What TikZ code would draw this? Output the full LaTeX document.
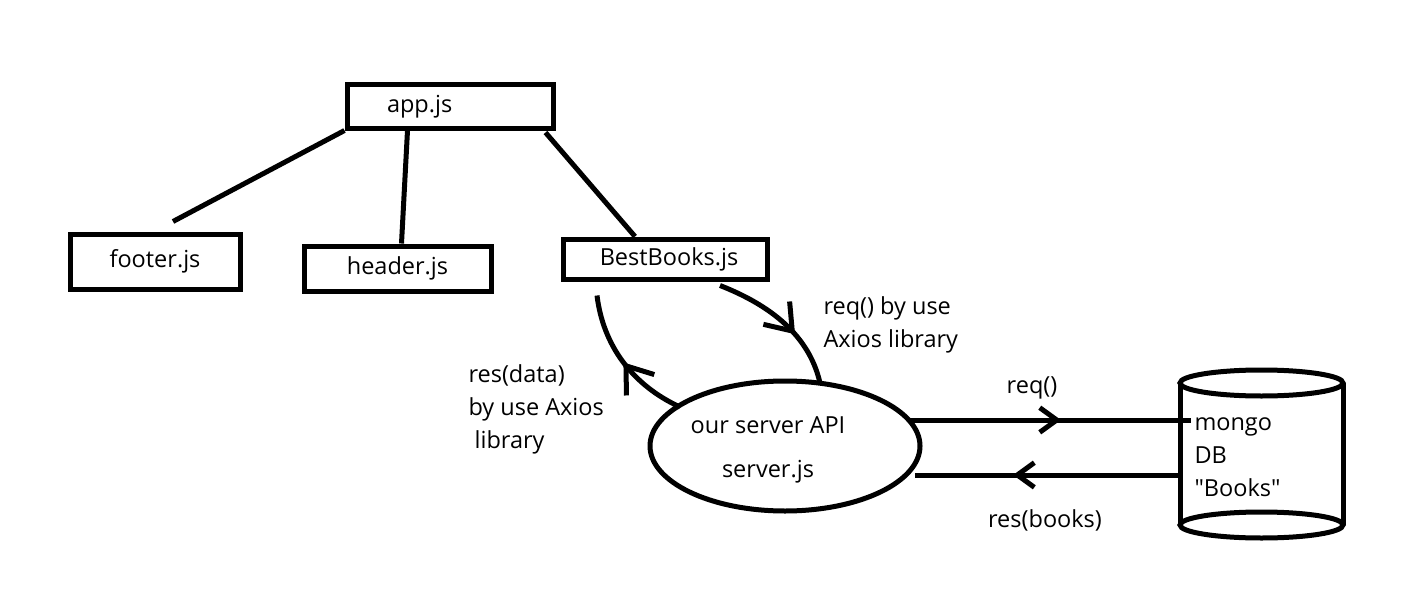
\documentclass[tikz,border=0pt]{standalone}
\usepackage{fontspec}
\setmainfont{Open Sans}[Ligatures=TeXOff]
\usetikzlibrary{arrows.meta,decorations.markings,shapes.geometric,calc}
\begin{document}
\begin{tikzpicture}[x=1pt,y=-1pt,line width=5pt,
  every node/.style={font=\fontsize{23.5}{33}\selectfont, inner sep=0pt},
  box/.style={draw, rectangle},
  lbl/.style={align=left},
  chev/.style 2 args={postaction={decorate}, decoration={markings,
      mark=at position #1 with {\arrow{Straight Barb[length=#2pt,width=1.45*#2pt,line width=5pt]}}}}]
\useasboundingbox (0,0) rectangle (1422,610);

% boxes
\node[box, minimum width=206pt, minimum height=43pt, text width=126pt, inner xsep=40pt, align=left] (app) at (450,106.5) {app.js};
\node[box, minimum width=170pt, minimum height=55pt] (footer) at (155,261.5) {footer.js};
\node[box, minimum width=187pt, minimum height=45pt] (header) at (397.5,268.5) {\raisebox{-4pt}{header.js}};
\node[box, minimum width=204pt, minimum height=40pt] (best) at (665,259) {\hspace*{8pt}BestBooks.js};

% tree lines
\draw (app.south west) -- ($(footer.north)+(18,-10)$);
\draw ($(app.south west)+(63,0)$) -- ($(header.north)+(4,0)$);
\draw ($(app.south east)+(-10,2)$) -- ($(best.north)+(-30,0)$);

% server ellipse
\node[draw, ellipse, minimum width=270pt, minimum height=130pt] (srv) at (785,446) {};
\node[align=center] (srvtxt) at (768,450) {our server API\\[11pt]server.js};

% database cylinder
\coordinate (db) at (1261.5,454);
\draw ($(db)+(-81.5,-71)$) -- ($(db)+(-81.5,71)$);
\draw ($(db)+(81.5,-71)$) -- ($(db)+(81.5,71)$);
\draw ($(db)+(0,-71)$) ellipse [x radius=81.5pt, y radius=13pt];
\draw ($(db)+(0,71)$) ellipse [x radius=81.5pt, y radius=13pt];
\node[lbl, anchor=west] (dbtxt) at (1192,457) {mongo\\DB\\"Books"};

% curved arrows
\coordinate (c1s) at ($(best.south)+(55,4)$);
\coordinate (c1e) at ($(srv.center)+(35,-63)$);
\draw[chev={0.62}{24}] (c1s) .. controls (762,302) and (808,330) .. (c1e);
\coordinate (c2s) at ($(srv.center)+(-105,-39)$);
\coordinate (c2e) at ($(best.south)+(-68,14)$);
\draw[chev={0.5}{24}] (c2s) .. controls (632,385) and (603,345) .. (c2e);

% straight arrows
\coordinate (r1s) at ($(srv.center)+(124,-26)$);
\coordinate (r1e) at ($(db)+(-71,-34)$);
\draw[chev={0.54}{17}] (r1s) -- (r1e);
\coordinate (r2s) at ($(db)+(-81.5,21)$);
\coordinate (r2e) at ($(srv.center)+(130,29)$);
\draw[chev={0.63}{17}] (r2s) -- (r2e);

% labels
\node[lbl, anchor=west] (lreq1) at (821,325) {req() by use\\Axios library};
\node[lbl, anchor=west] (lres1) at (466,409) {res(data)\\by use Axios\\\ library};
\node (lreq2) at (1032,388) {req()};
\node (lres2) at (1045,520) {res(books)};
\end{tikzpicture}
\end{document}
